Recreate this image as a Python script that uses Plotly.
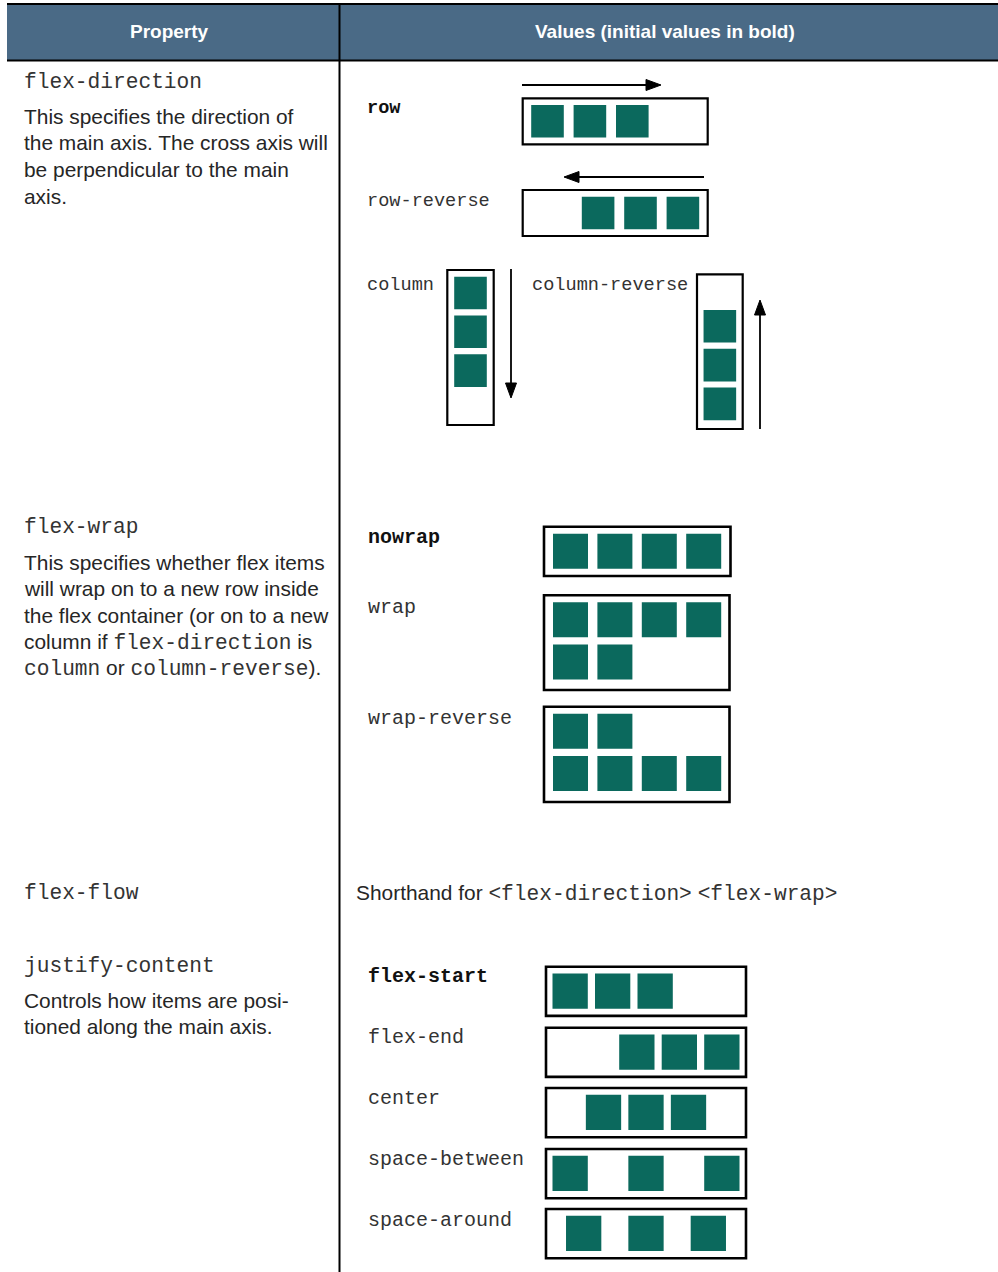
import plotly.graph_objects as go

# ---------------- content (data) ----------------
headers = ["Property", "Values (initial values in bold)"]
properties = ["flex-direction", "flex-wrap", "flex-flow", "justify-content"]
direction_values = ["row", "row-reverse", "column", "column-reverse"]
wrap_values = ["nowrap", "wrap", "wrap-reverse"]
justify_values = ["flex-start", "flex-end", "center", "space-between", "space-around"]
initial_values = ["row", "nowrap", "flex-start"]
direction_item_counts = [3, 3, 3, 3]
wrap_item_counts = [4, 6, 6]
justify_item_counts = [3, 3, 3, 3, 3]
MONO_TAG = "§"  # marks monospace fragments in descriptions
descriptions = [
    ["This specifies the direction of",
     "the main axis. The cross axis will",
     "be perpendicular to the main",
     "axis."],
    ["This specifies whether flex items",
     "will wrap on to a new row inside",
     "the flex container (or on to a new",
     "column if §flex-direction§ is",
     "§column§ or §column-reverse§)."],
    [],
    ["Controls how items are posi-",
     "tioned along the main axis."],
]
flow_text = "Shorthand for §<flex-direction>§ §<flex-wrap>§"

# ---------------- styles / geometry ----------------
W, H = 998, 1272
HEADER_BG = "#4a6a86"
TEAL = "#0b695d"
TXT = "#262626"
MONO_TXT = "#333333"
SANS = "Liberation Sans, Arial, sans-serif"
MONO = "Liberation Mono, monospace"
BODY_SIZE = 20.9
PROP_SIZE = 21.2
DIR_VAL_SIZE = 18.6
VAL_SIZE = 20.0

fig = go.Figure()
fig.add_trace(go.Scatter(x=[0, W], y=[0, H], mode="markers",
                         marker=dict(opacity=0), hoverinfo="skip", showlegend=False))
shapes = []
annotations = []


def rect(x0, y0, x1, y1, fill=None, line_color=None, lw=0):
    shapes.append(dict(type="rect", xref="x", yref="y", x0=x0, y0=y0, x1=x1, y1=y1,
                       fillcolor=fill if fill else "rgba(0,0,0,0)",
                       line=dict(color=line_color if line_color else "rgba(0,0,0,0)", width=lw),
                       layer="above"))


def line(x0, y0, x1, y1, lw=2, color="black"):
    shapes.append(dict(type="line", xref="x", yref="y", x0=x0, y0=y0, x1=x1, y1=y1,
                       line=dict(color=color, width=lw), layer="above"))


def tri(tip, base1, base2):
    path = "M {} {} L {} {} L {} {} Z".format(tip[0], tip[1], base1[0], base1[1], base2[0], base2[1])
    shapes.append(dict(type="path", xref="x", yref="y", path=path, fillcolor="black",
                       line=dict(color="black", width=1), layer="above"))


def rich(s, mono_size):
    parts = s.split(MONO_TAG)
    out = ""
    for i, p in enumerate(parts):
        p = p.replace("<", "&lt;").replace(">", "&gt;")
        if i % 2 == 1:
            out += ('<span style="font-family:Liberation Mono;font-size:{}px;color:{}">{}</span>'
                    .format(mono_size, MONO_TXT, p))
        else:
            out += p
    return out


def text(x, y, s, family, size, color=TXT, bold=False, anchor="left"):
    t = "<b>{}</b>".format(s) if bold else s
    annotations.append(dict(x=x, y=y, xref="x", yref="y", text=t, showarrow=False,
                            xanchor=anchor, yanchor="middle",
                            font=dict(family=family, size=size, color=color)))


def flex_main(n, c0, c1, item, gap, pad, mode):
    inner0, inner1 = c0 + pad, c1 - pad
    if mode == "start":
        return [inner0 + i * (item + gap) for i in range(n)]
    if mode == "end":
        return [inner1 - (n - i) * item - (n - 1 - i) * gap for i in range(n)]
    if mode == "center":
        tot = n * item + (n - 1) * gap
        s = (c0 + c1) / 2 - tot / 2
        return [s + i * (item + gap) for i in range(n)]
    if mode == "between":
        free = (inner1 - inner0 - n * item) / (n - 1)
        return [inner0 + i * (item + free) for i in range(n)]
    if mode == "around":
        free = (inner1 - inner0 - n * item) / n
        return [inner0 + free / 2 + i * (item + free) for i in range(n)]


# ---------------- table frame ----------------
rect(7, 4, W, 60.5, fill=HEADER_BG)
line(7, 4, W, 4, lw=2)
line(7, 60.5, W, 60.5, lw=2)
line(339.5, 4, 339.5, H, lw=2)
text(169.5, 31, headers[0], SANS, 19, color="white", bold=True, anchor="center")
text(665, 31, headers[1], SANS, 19, color="white", bold=True, anchor="center")

# ---------------- left column text ----------------
prop_y = [82, 527, 893, 966]
desc_y0 = [116, 562, None, 1000]
LINE_H = 26.7
for k, name in enumerate(properties):
    text(21.5, prop_y[k], name, MONO, PROP_SIZE, color=MONO_TXT)
    for j, ln in enumerate(descriptions[k]):
        text(21.5, desc_y0[k] + j * LINE_H, rich(ln, PROP_SIZE), SANS, BODY_SIZE)

text(354, 893, rich(flow_text, PROP_SIZE), SANS, BODY_SIZE)

# ---------------- flex-direction ----------------
BOX_LW = 2.2
dir_label_pos = [(365, 108), (365, 201), (365, 285), (530, 285)]
for v, (lx, ly) in zip(direction_values, dir_label_pos):
    text(lx, ly, v, MONO, DIR_VAL_SIZE, color=MONO_TXT if v not in initial_values else "#111",
         bold=(v in initial_values))

# row / row-reverse containers
row_boxes = [(522.7, 98.3, 707.7, 144.3, "start"), (522.7, 190.0, 707.7, 236.0, "end")]
ITEM_D = 32.6
for n, (x0, y0, x1, y1, mode) in zip(direction_item_counts[:2], row_boxes):
    rect(x0, y0, x1, y1, line_color="black", lw=BOX_LW)
    xs = flex_main(n, x0, x1, ITEM_D, 9.8, 8.5, mode)
    yc = (y0 + y1) / 2
    for xx in xs:
        rect(xx, yc - ITEM_D / 2, xx + ITEM_D, yc + ITEM_D / 2, fill=TEAL)

# column / column-reverse containers
col_boxes = [(447.3, 270.0, 493.7, 425.0, "start"), (697.0, 274.3, 742.7, 429.0, "end")]
for n, (x0, y0, x1, y1, mode) in zip(direction_item_counts[2:], col_boxes):
    rect(x0, y0, x1, y1, line_color="black", lw=BOX_LW)
    pad = 6.7 if mode == "start" else 8.8
    ys = flex_main(n, y0, y1, ITEM_D, 6.2, pad, mode)
    xc = (x0 + x1) / 2
    for yy in ys:
        rect(xc - ITEM_D / 2, yy, xc + ITEM_D / 2, yy + ITEM_D, fill=TEAL)

# arrows
AW = 1.8
line(522, 85, 648, 85, lw=AW)
tri((661, 85), (646, 79.5), (646, 90.5))
line(704, 177, 577, 177, lw=AW)
tri((564, 177), (579, 171.5), (579, 182.5))
line(511, 269, 511, 385, lw=AW)
tri((511, 398), (505.5, 383), (516.5, 383))
line(760, 429, 760, 313, lw=AW)
tri((760, 300), (754.5, 315), (765.5, 315))

# ---------------- flex-wrap ----------------
wrap_label_y = [537, 607, 718]
for v, ly in zip(wrap_values, wrap_label_y):
    text(366, ly, v, MONO, VAL_SIZE, color=MONO_TXT if v not in initial_values else "#111",
         bold=(v in initial_values))

WRAP_D = 35.0
wrap_boxes = [(544, 526.7, 730.5, 576.0), (544, 595.3, 729.5, 690.0), (544, 706.7, 729.5, 802.0)]
PER_LINE = 4
for k, (n, (x0, y0, x1, y1)) in enumerate(zip(wrap_item_counts, wrap_boxes)):
    rect(x0, y0, x1, y1, line_color="black", lw=2.6)
    n_lines = -(-n // PER_LINE)
    for i in range(n):
        ln = i // PER_LINE
        col = i % PER_LINE
        if wrap_values[k] == "wrap-reverse":
            ln = n_lines - 1 - ln
        xx = x0 + 9.0 + col * (WRAP_D + 9.4)
        yy = y0 + 7.0 + ln * 42.3
        rect(xx, yy, xx + WRAP_D, yy + WRAP_D, fill=TEAL)

# ---------------- justify-content ----------------
just_label_y = [976, 1037, 1098, 1159, 1220]
for v, ly in zip(justify_values, just_label_y):
    text(366, ly, v, MONO, VAL_SIZE, color=MONO_TXT if v not in initial_values else "#111",
         bold=(v in initial_values))

J_D = 35.3
just_modes = ["start", "end", "center", "between", "around"]
just_tops = [966.7, 1027.7, 1088.0, 1149.0, 1209.0]
for n, mode, top in zip(justify_item_counts, just_modes, just_tops):
    x0, x1, y0, y1 = 546, 746, top, top + 49.2
    rect(x0, y0, x1, y1, line_color="black", lw=2.6)
    xs = flex_main(n, x0, x1, J_D, 7.2, 6.5, mode)
    for xx in xs:
        rect(xx, y0 + 6.8, xx + J_D, y0 + 6.8 + J_D, fill=TEAL)

fig.update_layout(
    width=W, height=H,
    margin=dict(l=0, r=0, t=0, b=0),
    paper_bgcolor="white", plot_bgcolor="white",
    xaxis=dict(range=[0, W], visible=False, fixedrange=True),
    yaxis=dict(range=[H, 0], visible=False, fixedrange=True),
    shapes=shapes, annotations=annotations,
    showlegend=False,
)
fig.write_html("out.html",
               post_script="document.body.style.margin='0';document.body.style.overflow='hidden';",
               config={"displayModeBar": False})
